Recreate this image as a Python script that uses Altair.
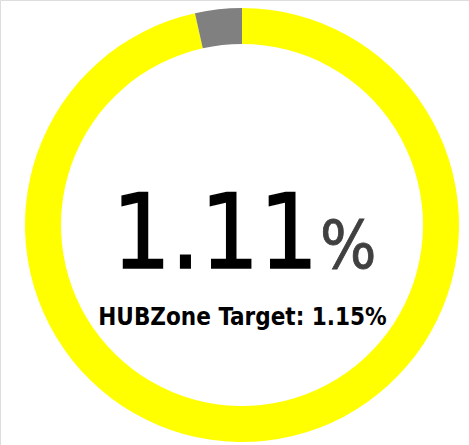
import altair as alt
import pandas as pd

# Values
actual_value = 1.11
target_value = 1.15
segments = ["Achieved", "Remaining"]
segment_values = [actual_value, round(target_value - actual_value, 4)]
segment_colors = ["#FFFF00", "#808080"]
segment_order = [0, 1]

main_label = "1.11"
unit_label = "%"
target_label = "HUBZone Target: 1.15%"

ring_df = pd.DataFrame({"segment": segments, "value": segment_values, "ord": segment_order})

CX, CY = 242, 225

ring = alt.Chart(ring_df).mark_arc(outerRadius=217, innerRadius=181, stroke=None).encode(
    theta=alt.Theta("value:Q", stack=True),
    color=alt.Color("segment:N", scale=alt.Scale(domain=segments, range=segment_colors), legend=None),
    order=alt.Order("ord:Q"),
    x=alt.value(CX),
    y=alt.value(CY),
)

text_df = pd.DataFrame({"t": [main_label]})
big = alt.Chart(text_df).mark_text(
    font="DejaVu Sans Condensed", fontSize=103, color="#000000", stroke="#000000", strokeWidth=1.5,
    align="center", baseline="alphabetic"
).encode(text="t:N", x=alt.value(215), y=alt.value(268))

unit_df = pd.DataFrame({"t": [unit_label]})
unit = alt.Chart(unit_df).mark_text(
    font="DejaVu Sans Condensed", fontSize=66, color="#404040", stroke="#404040", strokeWidth=0.8,
    align="left", baseline="alphabetic"
).encode(text="t:N", x=alt.value(320), y=alt.value(268))

tgt_df = pd.DataFrame({"t": [target_label]})
tgt = alt.Chart(tgt_df).mark_text(
    font="DejaVu Sans Condensed", fontSize=24, fontWeight="bold", color="#000000", align="center", baseline="alphabetic"
).encode(text="t:N", x=alt.value(242.5), y=alt.value(325))

chart = alt.layer(ring, big, unit, tgt).properties(
    width=469, height=445, padding=0, autosize=alt.AutoSizeParams(type="none")
).configure_view(stroke=None).configure(background="white")

chart.save("out.html", embed_options={"renderer": "svg", "actions": False})
